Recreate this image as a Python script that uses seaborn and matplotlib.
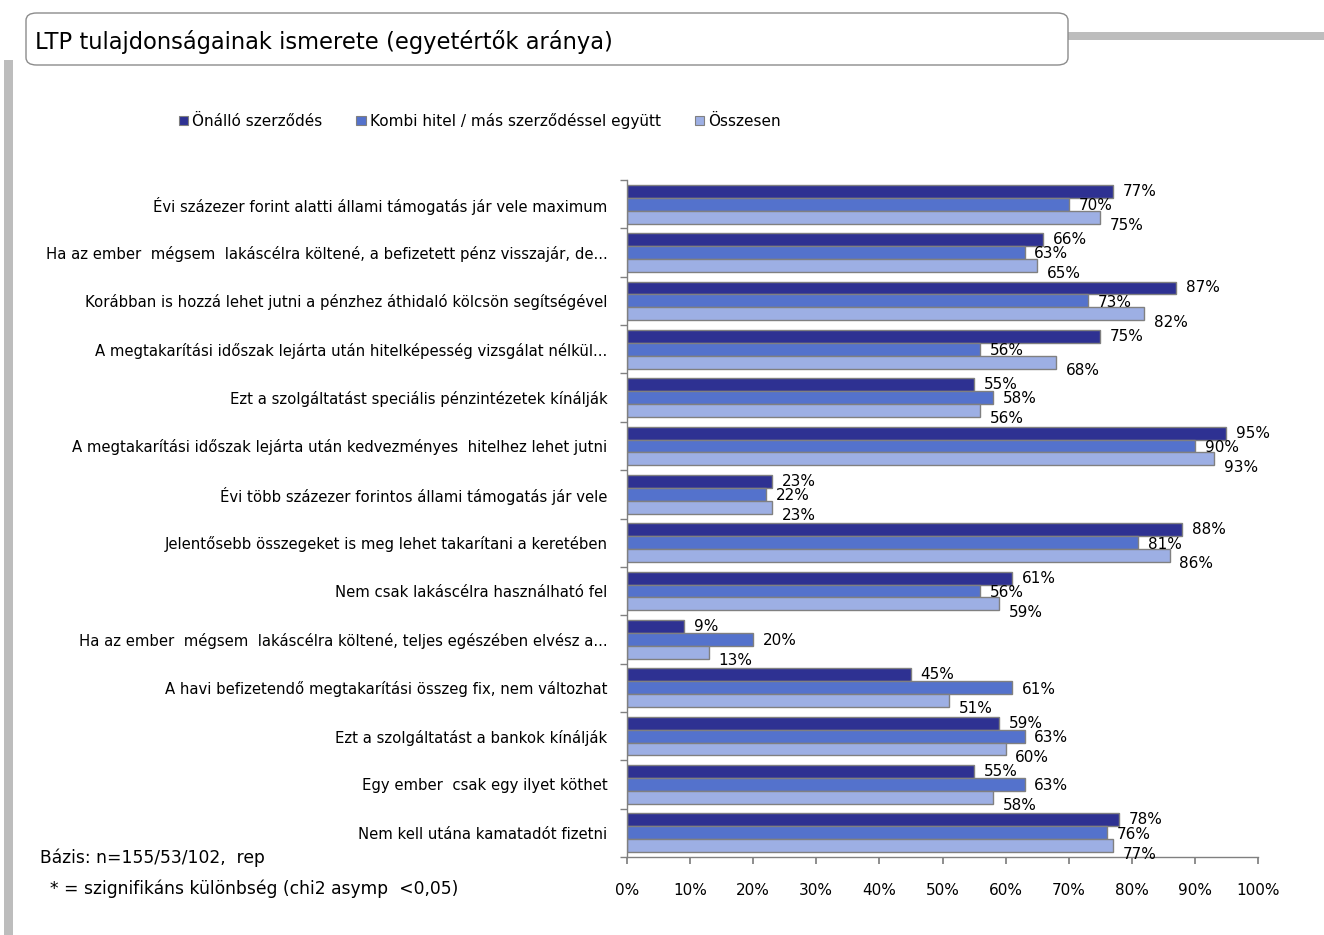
import numpy as np
import pandas as pd
import matplotlib
matplotlib.use("Agg")
import matplotlib.pyplot as plt
import seaborn as sns
from matplotlib.patches import FancyBboxPatch, Rectangle
from matplotlib.ticker import PercentFormatter

categories = [
    "Évi százezer forint alatti állami támogatás jár vele maximum",
    "Ha az ember  mégsem  lakáscélra költené, a befizetett pénz visszajár, de...",
    "Korábban is hozzá lehet jutni a pénzhez áthidaló kölcsön segítségével",
    "A megtakarítási időszak lejárta után hitelképesség vizsgálat nélkül...",
    "Ezt a szolgáltatást speciális pénzintézetek kínálják",
    "A megtakarítási időszak lejárta után kedvezményes  hitelhez lehet jutni",
    "Évi több százezer forintos állami támogatás jár vele",
    "Jelentősebb összegeket is meg lehet takarítani a keretében",
    "Nem csak lakáscélra használható fel",
    "Ha az ember  mégsem  lakáscélra költené, teljes egészében elvész a...",
    "A havi befizetendő megtakarítási összeg fix, nem változhat",
    "Ezt a szolgáltatást a bankok kínálják",
    "Egy ember  csak egy ilyet köthet",
    "Nem kell utána kamatadót fizetni",
]
series_names = ["Önálló szerződés", "Kombi hitel / más szerződéssel együtt", "Összesen"]
onallo = [77, 66, 87, 75, 55, 95, 23, 88, 61, 9, 45, 59, 55, 78]
kombi = [70, 63, 73, 56, 58, 90, 22, 81, 56, 20, 61, 63, 63, 76]
osszesen = [75, 65, 82, 68, 56, 93, 23, 86, 59, 13, 51, 60, 58, 77]
colors = ["#2E3192", "#5472CC", "#9DAFE4"]
xticks = [0, 10, 20, 30, 40, 50, 60, 70, 80, 90, 100]

rows = []
for name, vals in zip(series_names, [onallo, kombi, osszesen]):
    for c, v in zip(categories, vals):
        rows.append({"cat": c, "series": name, "val": v})
df = pd.DataFrame(rows)

sns.set_theme(style="white")
plt.rcParams["font.family"] = ["DejaVu Sans"]
plt.rcParams["text.color"] = "black"
plt.rcParams["xtick.color"] = "black"
plt.rcParams["ytick.color"] = "black"

fig = plt.figure(figsize=(13.24, 9.35), dpi=100)
W, H = 1324, 935

# decorative frame
fig.patches.append(Rectangle((1060 / W, 1 - 40 / H), (W - 1060) / W, 8 / H,
                             transform=fig.transFigure, facecolor="#BDBDBD", edgecolor="none", zorder=0))
fig.patches.append(Rectangle((4 / W, 0), 9 / W, 1 - 60 / H,
                             transform=fig.transFigure, facecolor="#BDBDBD", edgecolor="none", zorder=0))
fig.patches.append(FancyBboxPatch((26 / W, 1 - 65 / H), 1042 / W, 52 / H,
                                  boxstyle="round,pad=0,rounding_size=0.008",
                                  transform=fig.transFigure, facecolor="white",
                                  edgecolor="#8C8C8C", linewidth=1.0, zorder=1))
fig.text(35 / W, 1 - 42 / H, "LTP tulajdonságainak ismerete (egyetértők aránya)",
         fontsize=16.3, ha="left", va="center", color="black", zorder=2)

ax = fig.add_axes([627 / W, 1 - 857 / H, (1258 - 627) / W, (857 - 180) / H])
sns.barplot(data=df, y="cat", x="val", hue="series", orient="h", palette=colors,
            width=0.8, edgecolor="#808080", linewidth=1.0, saturation=1, ax=ax, legend=True)

ax.set_xlim(0, 100)
ax.set_ylim(len(categories) - 0.5, -0.5)
ax.set_xticks(xticks)
ax.xaxis.set_major_formatter(PercentFormatter(decimals=0))
ax.set_xlabel("")
ax.set_ylabel("")
ax.tick_params(axis="x", labelsize=11, pad=14, length=5, direction="out", color="#808080",
               bottom=True, labelcolor="black")
ax.tick_params(axis="y", labelsize=10.7, length=0, pad=14, labelcolor="black")
for s in ["top", "right"]:
    ax.spines[s].set_visible(False)
for s in ["left", "bottom"]:
    ax.spines[s].set_color("#808080")
    ax.spines[s].set_linewidth(1.0)
# category boundary ticks
ax.set_yticks(np.arange(-0.5, len(categories) + 0.5, 1.0), minor=True)
ax.tick_params(axis="y", which="minor", length=5, direction="out", color="#808080", left=True)

offsets = [0, -1, -6]
for i, cont in enumerate(ax.containers):
    for p in cont:
        w = p.get_width()
        yc = p.get_y() + p.get_height() / 2
        ax.annotate(f"{w:.0f}%", xy=(w, yc), xytext=(7, offsets[i]), textcoords="offset points",
                    ha="left", va="center", fontsize=11, color="black")

ax.legend_.remove()
handles = [Rectangle((0, 0), 1, 1, facecolor=c, edgecolor="#808080", linewidth=0.8) for c in colors]
fig.legend(handles, series_names, loc="center left", bbox_to_anchor=(165 / W, 1 - 121 / H),
           ncol=3, frameon=False, fontsize=11, handlelength=0.6, handleheight=0.6,
           handletextpad=0.3, columnspacing=2.2)

fig.text(40 / W, 1 - 858 / H, "Bázis: n=155/53/102,  rep", fontsize=12.3, ha="left", va="center")
fig.text(50 / W, 1 - 889 / H, "* = szignifikáns különbség (chi2 asymp  <0,05)", fontsize=12.3,
         ha="left", va="center")

fig.savefig("out.png", dpi=100)
